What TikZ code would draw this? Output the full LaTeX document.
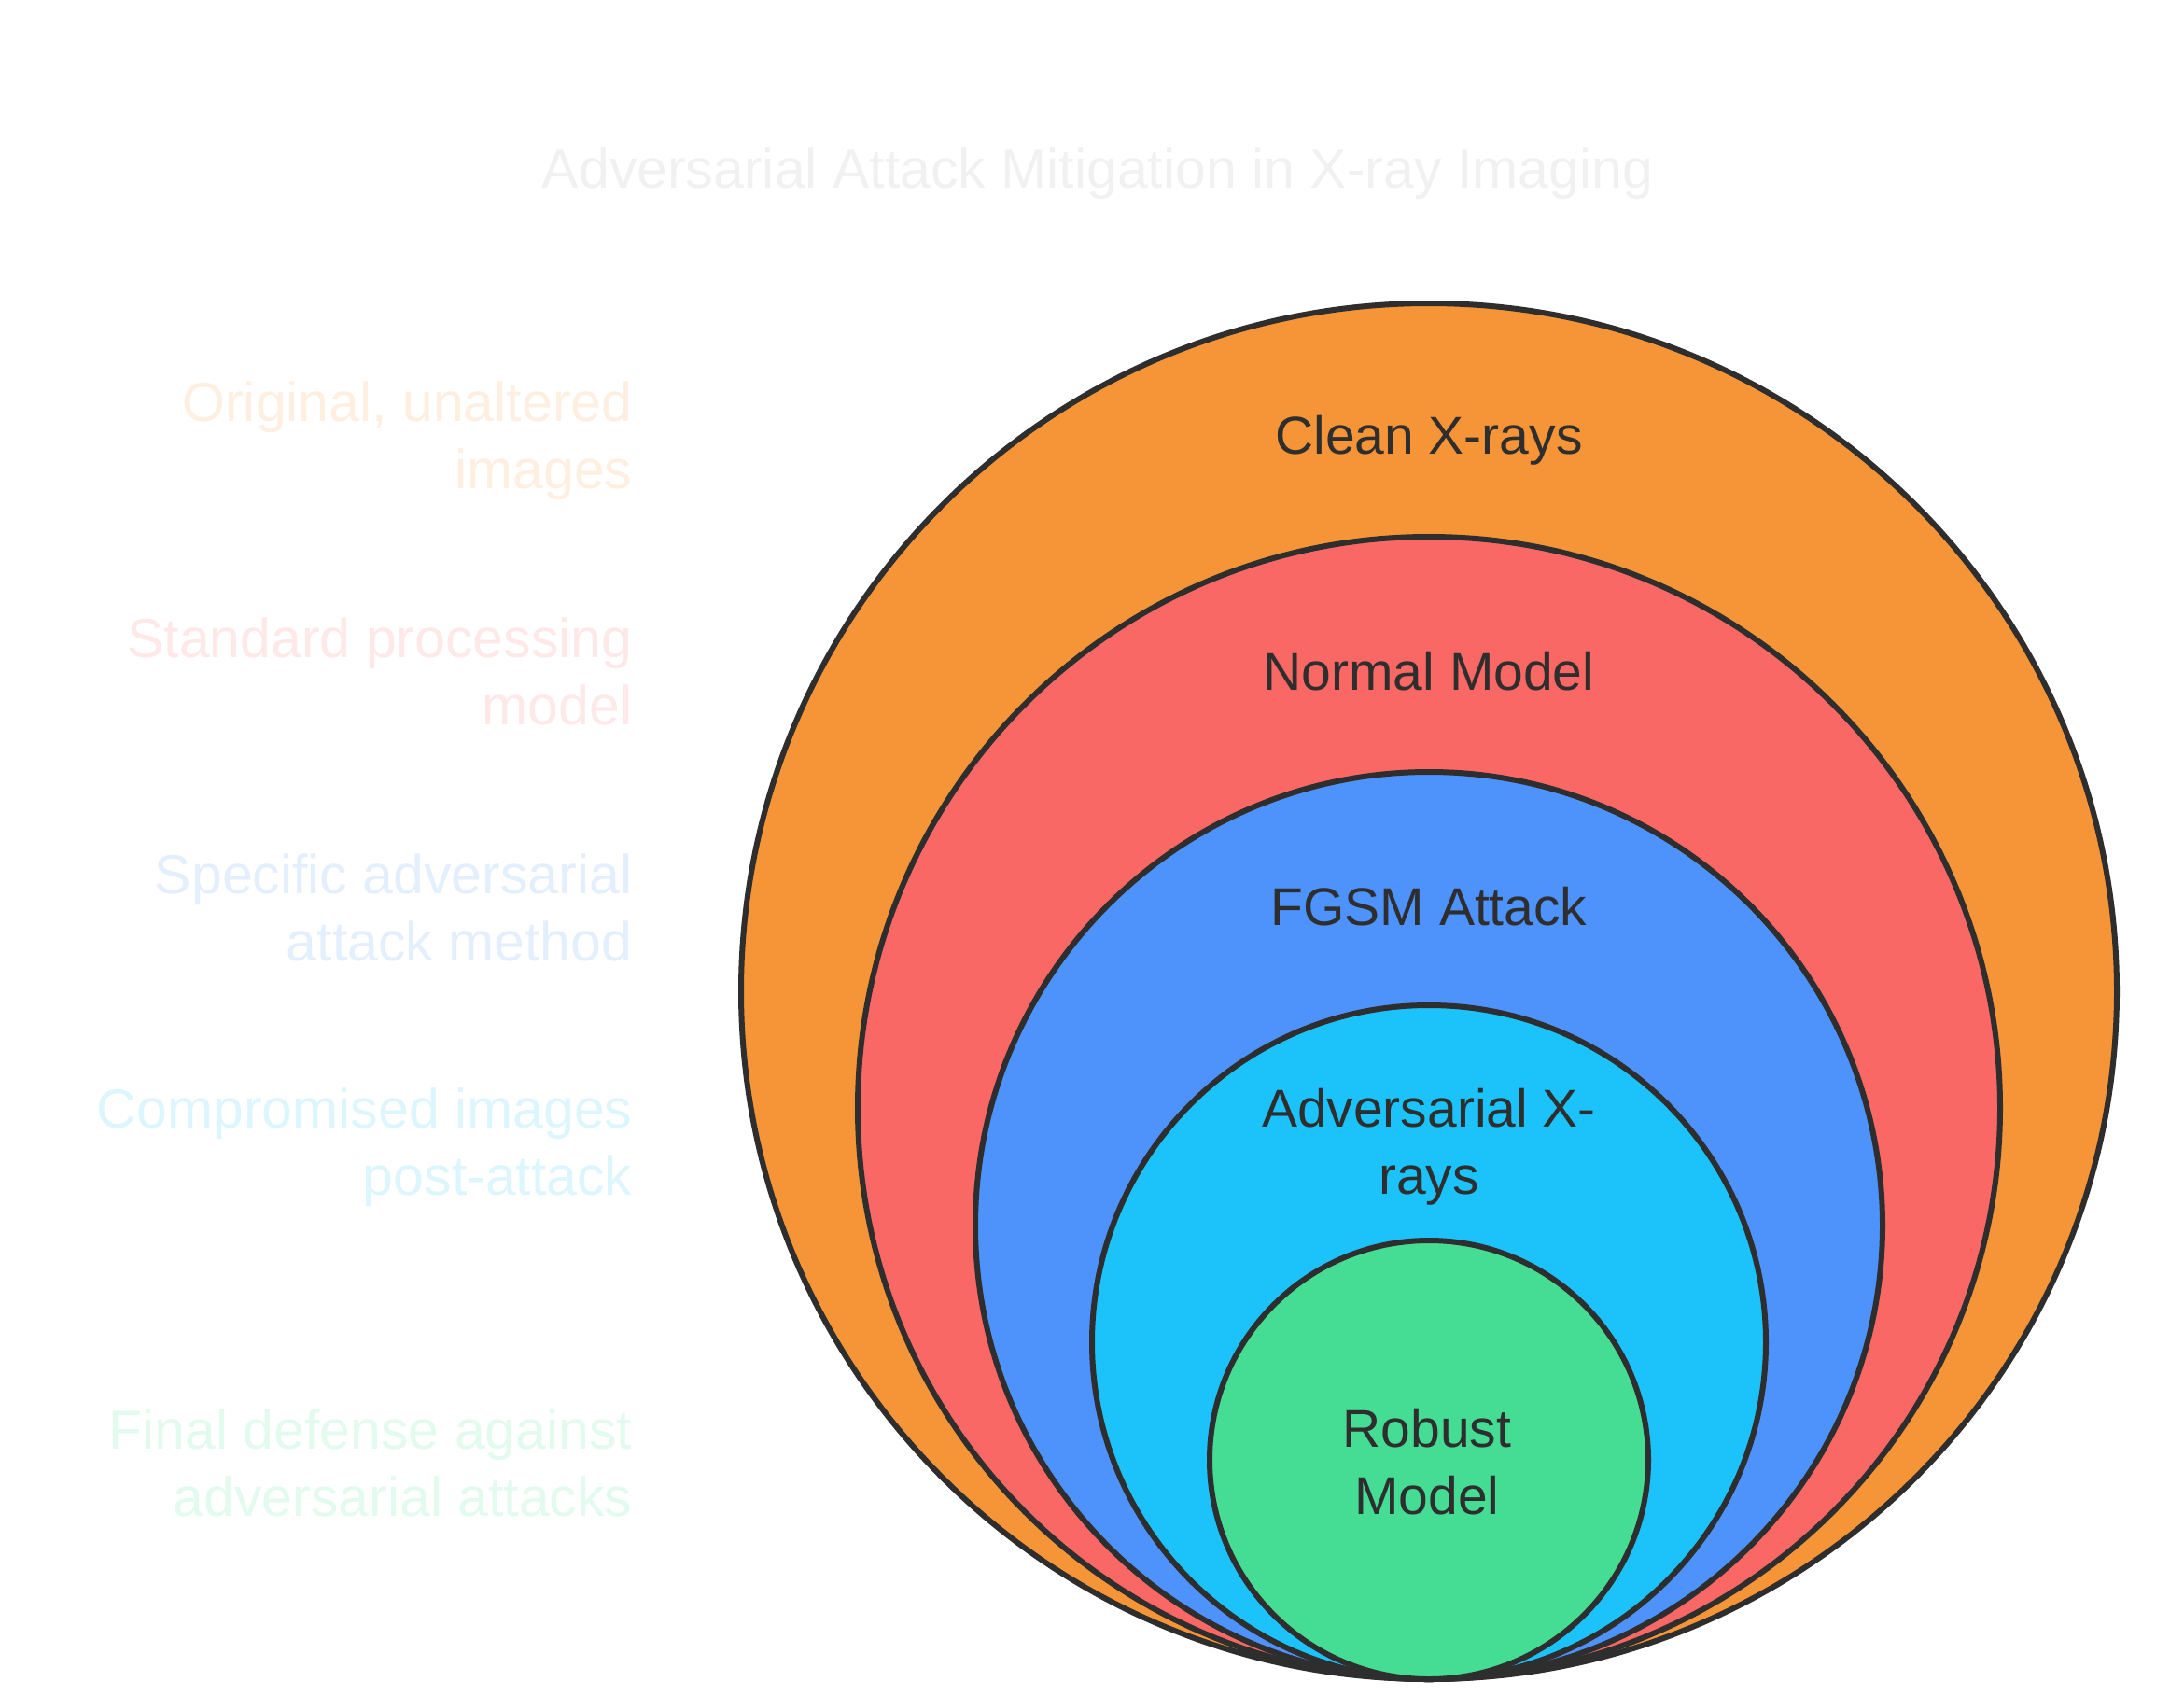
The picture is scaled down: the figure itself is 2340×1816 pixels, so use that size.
\documentclass[tikz,border=0pt]{standalone}
\usepackage{fontspec}
\setmainfont{Liberation Sans}
\definecolor{cleanc}{HTML}{F69537}
\definecolor{normalc}{HTML}{FA6865}
\definecolor{fgsmc}{HTML}{4E92FC}
\definecolor{advc}{HTML}{1CC3FB}
\definecolor{robustc}{HTML}{45DD94}
\definecolor{inkc}{HTML}{2E2E2E}
\definecolor{titlec}{HTML}{F1F1F1}
\tikzset{
	ring/.style={draw=inkc, line width=6pt, fill=#1},
	inlabel/.style={text=inkc, align=center, font=\fontsize{57}{72}\selectfont},
	sidelabel/.style={text=#1!15, align=right, anchor=east, font=\fontsize{59}{72}\selectfont},
}

\begin{document}
\begin{tikzpicture}[x=1pt, y=-1pt]
		%%%%% START %%%%%
		
		\useasboundingbox (0, 0) rectangle (2340, 1816);
		
		\node[text=titlec, font=\fontsize{59}{70}\selectfont] (title) at (1176, 186) {Adversarial Attack Mitigation in X-ray Imaging};
		
		\draw[ring=cleanc] (1531, 1062) circle (737pt);
		\draw[ring=normalc] (1531, 1187) circle (612pt);
		\draw[ring=fgsmc] (1531, 1313) circle (486pt);
		\draw[ring=advc] (1531, 1438) circle (361pt);
		\draw[ring=robustc] (1531, 1564) circle (235pt);
		
		\node[inlabel] (clean) at (1531, 472) {Clean X-rays};
		\node[inlabel] (normal) at (1531, 719) {Normal Model};
		\node[inlabel] (fgsm) at (1531, 971) {FGSM Attack};
		\node[inlabel] (adv) at (1531, 1229) {Adversarial X-\\rays};
		\node[inlabel] (robust) at (1529, 1566) {Robust\\Model};
		
		\node[sidelabel=cleanc] (cleannote) at (681, 472) {Original, unaltered\\images};
		\node[sidelabel=normalc] (normalnote) at (681, 719) {Standard processing\\model};
		\node[sidelabel=fgsmc] (fgsmnote) at (681, 972) {Specific adversarial\\attack method};
		\node[sidelabel=advc] (advnote) at (681, 1229) {Compromised images\\post-attack};
		\node[sidelabel=robustc] (robustnote) at (681, 1567) {Final defense against\\adversarial attacks};
		
		%%%%% END %%%%%
	\end{tikzpicture}
\end{document}
